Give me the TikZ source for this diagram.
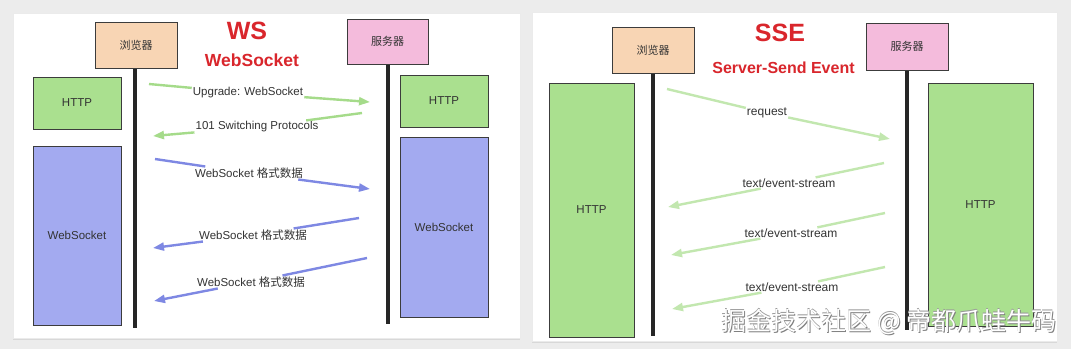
\documentclass[tikz,border=0pt]{standalone}
\usepackage{fontspec}
\setmainfont{Liberation Sans}
\newfontfamily\cjk{Noto Sans CJK SC}
\usetikzlibrary{arrows.meta,shadows}
\definecolor{bgc}{HTML}{ECECEC}
\definecolor{peach}{HTML}{F8D5B4}
\definecolor{pinkc}{HTML}{F4BBDC}
\definecolor{greenbox}{HTML}{AAE08F}
\definecolor{bluebox}{HTML}{A3AAF0}
\definecolor{garrowc}{HTML}{A5DB8A}
\definecolor{sarrowc}{HTML}{C2E7AF}
\definecolor{barrowc}{HTML}{7E88E3}
\definecolor{redt}{HTML}{D9262C}
\definecolor{txt}{HTML}{333333}
\definecolor{edge}{HTML}{3C3C3C}
\newcommand\wmshadow[1]{\makebox[0pt][l]{\hspace{1pt}\raisebox{-1pt}{\color{black!50}#1}}\makebox[0pt][l]{\hspace{-0.5pt}\raisebox{0.5pt}{\color{black!40}#1}}{\color{white}#1}}
\tikzset{
  panel/.style={fill=white, draw=black!8, line width=0.5pt, drop shadow={opacity=0.18, shadow xshift=0pt, shadow yshift=-2pt}},
  actor/.style={draw=edge, line width=1pt, text=txt, font=\cjk\fontsize{11}{13}\selectfont, inner sep=0pt},
  proto/.style={draw=edge, line width=1pt, text=txt, font=\fontsize{11.5}{13}\selectfont, inner sep=0pt},
  life/.style={draw=black!85, line width=4pt},
  lab/.style={fill=white, text=txt, inner sep=1pt, font=\fontsize{11.5}{13}\selectfont},
  slab/.style={fill=white, text=txt, inner sep=1pt, font=\fontsize{12}{14}\selectfont},
  tip/.style={-{Triangle[length=11pt,width=8pt]}},
  garrow/.style={tip, draw=garrowc, line width=2.4pt},
  sarrow/.style={tip, draw=sarrowc, line width=2.4pt},
  barrow/.style={tip, draw=barrowc, line width=2.4pt},
  title/.style={text=redt, font=\bfseries\fontsize{25}{28}\selectfont, inner sep=0pt},
  subtitle/.style={text=redt, font=\bfseries\fontsize{17.5}{20}\selectfont, inner sep=0pt},
}
\begin{document}
\begin{tikzpicture}[x=1pt,y=-1pt]
\useasboundingbox (0,0) rectangle (1071,349);
\fill[bgc] (0,0) rectangle (1071,349);
% panels
\path[panel] (13,13) rectangle (520,338);
\path[panel] (532,12) rectangle (1057,341);

% ===== Left panel: WebSocket =====
\node[title] (wst) at (247,31) {WS};
\node[subtitle] (wss) at (252,60) {WebSocket};
\node[actor, fill=peach, minimum width=82pt, minimum height=46pt] (b1) at (136,45) {浏览器};
\node[actor, fill=pinkc, minimum width=81pt, minimum height=45pt] (s1) at (387.5,41.5) {服务器};
\coordinate (b1e) at (135,328);
\coordinate (s1e) at (388,324);
\draw[life] (b1.south -| b1e) -- (b1e);
\draw[life] (s1.south -| s1e) -- (s1e);
\node[proto, fill=greenbox, minimum width=88pt, minimum height=52pt] (h1) at (77,103) {HTTP};
\node[proto, fill=bluebox, minimum width=88pt, minimum height=179pt] (w1) at (77,235.5) {WebSocket};
\node[proto, fill=greenbox, minimum width=88pt, minimum height=52pt] (h2) at (444,101) {HTTP};
\node[proto, fill=bluebox, minimum width=88pt, minimum height=180pt] (w2) at (444,227) {WebSocket};

\coordinate (u1) at (149,84);  \coordinate (u2) at (370,102);
\coordinate (r1) at (362,113); \coordinate (r2) at (153,136);
\coordinate (m1a) at (155,159); \coordinate (m1b) at (370,189);
\coordinate (m2a) at (359,218); \coordinate (m2b) at (153,248);
\coordinate (m3a) at (367,258); \coordinate (m3b) at (154,301);
\node[lab] (lu) at (248,93) {Upgrade: WebSocket};
\node[lab] (lr) at (257,127) {101 Switching Protocols};
\node[lab] (lm1) at (249,173) {WebSocket {\cjk 格式数据}};
\node[lab] (lm2) at (253,235) {WebSocket {\cjk 格式数据}};
\node[lab] (lm3) at (251,282) {WebSocket {\cjk 格式数据}};
\draw[garrow] (u1) -- (lu) -- (u2);
\draw[garrow] (r1) -- (lr) -- (r2);
\draw[barrow] (m1a) -- (lm1) -- (m1b);
\draw[barrow] (m2a) -- (lm2) -- (m2b);
\draw[barrow] (m3a) -- (lm3) -- (m3b);

% ===== Right panel: SSE =====
\node[title] (sset) at (780,33) {SSE};
\node[subtitle, font=\bfseries\fontsize{16}{18}\selectfont] (sses) at (783.5,68) {Server-Send Event};
\node[actor, fill=peach, minimum width=82pt, minimum height=46pt] (b2) at (653,50) {浏览器};
\node[actor, fill=pinkc, minimum width=82pt, minimum height=47pt] (s2) at (907,46.5) {服务器};
\coordinate (b2e) at (653,336);
\coordinate (s2e) at (907,330);
\draw[life] (b2.south -| b2e) -- (b2e);
\draw[life] (s2.south -| s2e) -- (s2e);
\node[proto, fill=greenbox, minimum width=85pt, minimum height=254pt] (h3) at (591.5,210) {HTTP};
\node[proto, fill=greenbox, minimum width=105pt, minimum height=243pt] (h4) at (980.5,204.5) {HTTP};

\coordinate (q1) at (667,89);  \coordinate (q2) at (890,139);
\coordinate (e1a) at (884,163); \coordinate (e1b) at (668,207);
\coordinate (e2a) at (885,213); \coordinate (e2b) at (671,255);
\coordinate (e3a) at (885,267); \coordinate (e3b) at (672,309);
\node[slab] (lq) at (767,113) {request};
\node[slab] (le1) at (789,183) {text/event-stream};
\node[slab] (le2) at (791,233) {text/event-stream};
\node[slab] (le3) at (792,287) {text/event-stream};
\draw[sarrow] (q1) -- (lq) -- (q2);
\draw[sarrow] (e1a) -- (le1) -- (e1b);
\draw[sarrow] (e2a) -- (le2) -- (e2b);
\draw[sarrow] (e3a) -- (le3) -- (e3b);

% watermark
\node[anchor=east, inner sep=0pt, font=\cjk\fontsize{25}{28}\selectfont] (wm) at (1057,322) {\wmshadow{掘金技术社区 @ 帝都爪蛙牛码}};
\end{tikzpicture}
\end{document}
